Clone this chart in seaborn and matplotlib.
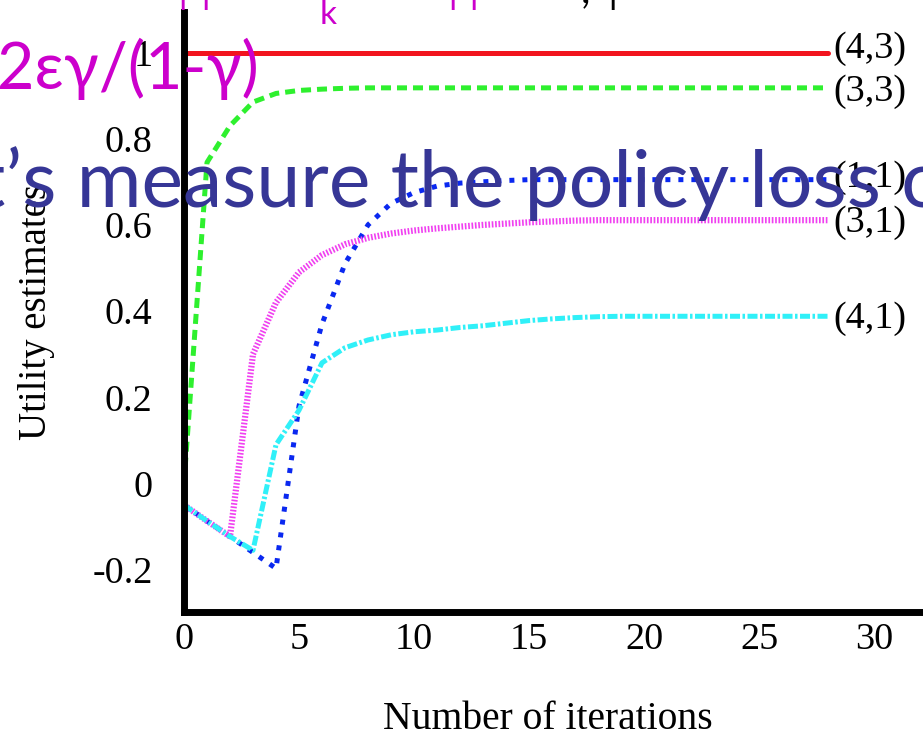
import matplotlib
matplotlib.use("Agg")
import matplotlib.pyplot as plt
import pandas as pd
import seaborn as sns

# Value iteration on the 4x3 world: utility estimates per iteration
iters = list(range(29))
u_43 = [1.0] * 29
u_33 = [0.0, 0.745, 0.83, 0.885, 0.905, 0.912, 0.915, 0.917] + [0.918] * 21
u_11 = [-0.05, -0.087, -0.123, -0.16, -0.197, 0.18, 0.37, 0.51, 0.60, 0.65,
        0.675, 0.69, 0.697, 0.70, 0.703] + [0.705] * 14
u_31 = [-0.05, -0.087, -0.123, 0.30, 0.42, 0.49, 0.53, 0.555, 0.57, 0.58,
        0.587, 0.592, 0.596, 0.60, 0.603, 0.606, 0.608, 0.61] + [0.611] * 11
u_41 = [-0.05, -0.087, -0.123, -0.155, 0.09, 0.17, 0.28, 0.315, 0.333, 0.345,
        0.352, 0.356, 0.362, 0.366, 0.372, 0.378, 0.382, 0.385, 0.387] + [0.388] * 10

states = ["(4,3)", "(3,3)", "(1,1)", "(3,1)", "(4,1)"]
series = [u_43, u_33, u_11, u_31, u_41]
colors = ["#f2141e", "#2ef02e", "#0a28f0", "#f040f0", "#30f0f8"]
styles = ["-", (0, (2.0, 1.2)), (0, (1.0, 1.6)), (0, (0.27, 0.27)),
          (0, (2.0, 0.5, 0.5, 0.5))]
widths = [3.6, 3.6, 3.6, 4.5, 3.6]
label_dy = [3, -3, 1.5, -1.5, -1.5]

xticks = [0, 5, 10, 15, 20, 25, 30]
yticks = [-0.2, 0, 0.2, 0.4, 0.6, 0.8, 1]
ytick_labels = ["-0.2", "0", "0.2", "0.4", "0.6", "0.8", "1"]

W, H = 923, 735

sns.set_theme(style="white")
plt.rcParams["font.family"] = ["Liberation Serif", "DejaVu Serif"]

fig = plt.figure(figsize=(W / 100, H / 100), dpi=100)
ax = fig.add_axes([184 / W, 123.5 / H, 739 / W, 599.5 / H])

for name, vals, col, ls, lw in zip(states, series, colors, styles, widths):
    df = pd.DataFrame({"iteration": iters, "utility": vals})
    sns.lineplot(data=df, x="iteration", y="utility", ax=ax, color=col,
                 linestyle=ls, linewidth=lw)

for name, vals, dy in zip(states, series, label_dy):
    ax.annotate(name, xy=(iters[-1], vals[-1]), xytext=(4, dy),
                textcoords="offset points", va="center", ha="left",
                fontsize=27.5, color="black", annotation_clip=False)

ax.set_xlim(0, 32.13)
ax.set_ylim(-0.297, 1.094)
ax.set_xticks(xticks)
ax.set_yticks(yticks)
ax.set_yticklabels(ytick_labels)
ax.set_xlabel("Number of iterations", fontsize=28.5, color="black")
ax.set_ylabel("Utility estimates", fontsize=28, color="black")
ax.xaxis.set_label_coords(0.4926, -0.150)
ax.yaxis.set_label_coords(-0.174, 0.5)
for side in ["top", "right"]:
    ax.spines[side].set_visible(False)
for side in ["left", "bottom"]:
    ax.spines[side].set_linewidth(5)
    ax.spines[side].set_color("black")
ax.tick_params(axis="both", direction="out", length=3.6, width=3.6,
               color="black", labelsize=27.5, labelcolor="black")
ax.tick_params(axis="y", pad=19)
ax.tick_params(axis="x", pad=4)
ax.grid(False)

# slide text laid over the figure
renderer = fig.canvas.get_renderer()
sans = ["Lato", "Noto Sans", "DejaVu Sans"]


def text_width(s, size):
    t = fig.text(0, 0, s, fontsize=size, family=sans)
    w = t.get_window_extent(renderer).width
    t.remove()
    return w


def px(x, y):
    return x / W, 1 - y / H


# blue line: "measure ... loss" spans x=77..883, baseline at y=207
core = "measure the policy loss"
size_b = 60 * 806 / text_width(core, 60)
prefix = text_width("Let’s " + core, size_b) - text_width(core, size_b)
fig.text(*px(77 - prefix, 207), "Let’s measure the policy loss of",
         fontsize=size_b, family=sans, color="#363696", va="baseline",
         ha="left")

# magenta bound
bound = "2εγ/(1-γ)"
size_m = 45 * 262 / text_width(bound, 45)
fig.text(*px(259, 89), bound, fontsize=size_m, family=sans, color="#cc00cc",
         va="baseline", ha="right")

# bottoms of the line of text above
for x in [182, 205, 452, 473]:
    fig.text(*px(x, 10), "|", fontsize=30, family=sans, color="#cc00cc",
             va="bottom", ha="center")
fig.text(*px(328, 24), "k", fontsize=24, family=sans, color="#cc00cc",
         va="baseline", ha="center")
fig.text(*px(585, 2), ",", fontsize=30, family=sans, color="black",
         va="baseline", ha="center")
fig.text(*px(612, 10), "|", fontsize=30, family=sans, color="black",
         va="bottom", ha="center")

fig.savefig("out.png", dpi=100)
